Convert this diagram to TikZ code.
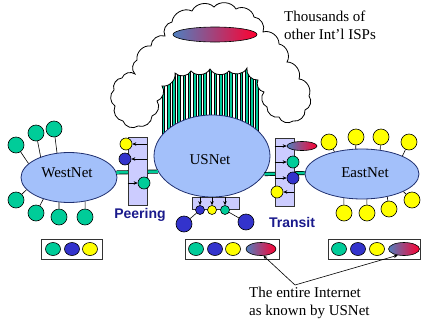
\documentclass[tikz,border=0pt]{standalone}
\usepackage{fontspec}
\setmainfont{Liberation Serif}
\setsansfont{Liberation Sans}
\usetikzlibrary{shapes.geometric,arrows.meta}
\definecolor{cgreen}{HTML}{00CC99}
\definecolor{cblue}{HTML}{3333CC}
\definecolor{cyellow}{HTML}{FFFF00}
\definecolor{cnet}{HTML}{A3C0FA}
\definecolor{netline}{HTML}{1F2F6F}
\definecolor{cbox}{HTML}{CCCCFF}
\definecolor{ctext}{HTML}{1A1A8C}
\definecolor{cgl}{HTML}{4F7FBF}
\definecolor{cgr}{HTML}{FF0030}
\begin{document}
\begin{tikzpicture}[x=1pt,y=-1pt,
  net/.style={ellipse, draw=netline, fill=cnet, line width=0.8pt, inner sep=0pt},
  cust/.style={circle, draw=black, line width=0.6pt, minimum size=16pt, inner sep=0pt},
  smallc/.style={circle, draw=black, line width=0.6pt, minimum size=12pt, inner sep=0pt},
  tinyc/.style={circle, draw=black, line width=0.6pt, minimum size=9pt, inner sep=0pt},
  rowc/.style={ellipse, draw=black, line width=0.6pt, minimum width=15pt, minimum height=13pt, inner sep=0pt},
  grad/.style={ellipse, draw=black, line width=0.6pt, left color=cgl, right color=cgr, inner sep=0pt},
  pbox/.style={rectangle, draw=black!80, fill=cbox, line width=0.6pt, inner sep=0pt},
  rowbox/.style={rectangle, draw=black!80, fill=white, line width=0.6pt, inner sep=0pt, minimum height=20pt},
  lbl/.style={font=\fontsize{15}{18}\selectfont, inner sep=0pt},
  blbl/.style={font=\sffamily\bfseries\fontsize{14}{16}\selectfont, text=ctext, inner sep=0pt},
  arr/.style={-{Stealth[length=4pt,width=3.5pt]}, line width=0.6pt},
  lnk/.style={line width=0.6pt},
  bar/.style={draw=black, double=cgreen, double distance=2.6pt, line width=0.7pt},
  stripe/.style={draw=black, fill=cgreen, line width=0.5pt},
  cloud/.style={draw=black, fill=white, line width=0.8pt}
]
\useasboundingbox (0,0) rectangle (421,322);

% stripes between cloud and USNet
\foreach \i in {0,...,18}
  \draw[stripe] ({162+5.2*\i},60) rectangle ++(2.6,90);

% cloud
\draw[cloud] (162,86) to[bend left=55] (157,101) to[bend left=55] (152,116)
  to[bend left=55] (138,126) to[bend left=55] (123,121) to[bend left=55] (115,106)
  to[bend left=55] (114,90) to[bend left=55] (122,78) to[bend left=55] (135,74)
  to[bend left=55] (137,60) to[bend left=55] (151,46) to[bend left=55] (165,36)
  to[bend left=55] (172,22) to[bend left=55] (192,11) to[bend left=55] (214,7)
  to[bend left=55] (236,9) to[bend left=55] (254,17) to[bend left=55] (263,32)
  to[bend left=55] (279,44) to[bend left=55] (287,62) to[bend left=55] (299,79)
  to[bend left=55] (309,96) to[bend left=55] (305,110) to[bend left=55] (293,121)
  to[bend left=55] (279,117) to[bend left=55] (267,107) to[bend left=55] (264,92)
  to[bend left=55] (258,80) to[bend left=55] (247,68) to[bend left=55] (229,71)
  to[bend left=55] (210,69) to[bend left=55] (191,71) to[bend left=55] (175,73)
  to[bend left=55] (162,86) -- cycle;

\node[grad, minimum width=84pt, minimum height=15pt] (isp) at (215,34.5) {};
\node[lbl, anchor=base west] (t1) at (284,21.7) {Thousands of};
\node[lbl, anchor=base west] (t2) at (284,39.7) {other Int’l ISPs};

% networks
\node[net, minimum width=96pt, minimum height=50pt] (west) at (69,177.5) {};
\node[net, minimum width=116pt, minimum height=82pt] (us) at (212,156) {};
\node[net, minimum width=114pt, minimum height=50pt] (east) at (362,174) {};
\node[lbl] (westt) at (67,172.5) {WestNet};
\node[lbl] (ust) at (210,160) {USNet};
\node[lbl] (eastt) at (365,173) {EastNet};

% green links
\draw[bar] (west.6.7) -- (us.196.1);
\draw[bar] (us.341.5) -- (east.179.5);

% boxes
\node[pbox, minimum width=19pt, minimum height=68pt] (peer) at (137.5,171) {};
\node[pbox, minimum width=19pt, minimum height=68pt] (tran) at (284.5,172) {};
\node[pbox, minimum width=47pt, minimum height=12pt] (ub) at (215.5,203) {};

% WestNet customers
\foreach \n/\x/\y/\a in {w1/16/145/161, w2/36/133/144, w3/54/129/116, w4/16/200/196,
                         w5/36/213/220, w6/59/217/248, w7/85/217/304} {
  \node[cust, fill=cgreen] (\n) at (\x,\y) {};
  \draw[lnk] (\n) -- (west.\a);
}
% EastNet customers
\foreach \n/\x/\y/\a in {e1/329/142/141, e2/356/137/104, e3/381/137/53, e4/409/142/24,
                         e5/344/213/233, e6/367/213/281, e7/389/209/318, e8/412/200/337} {
  \node[cust, fill=cyellow] (\n) at (\x,\y) {};
  \draw[lnk] (\n) -- (east.\a);
}

% Peering
\node[smallc, fill=cyellow] (py) at (126,144) {};
\node[smallc, fill=cblue] (pb) at (125,159) {};
\node[smallc, fill=cgreen] (pg) at (144,183) {};
\draw[arr] (peer.east |- py) -- (py);
\draw[arr] (peer.east |- pb) -- (pb);
\draw[arr] (peer.west |- pg) -- (pg);
\node[blbl, anchor=base] (peert) at (140,218) {Peering};

% Transit
\node[grad, minimum width=30pt, minimum height=9pt] (tg) at (302,146) {};
\node[smallc, fill=cgreen] (tgr) at (293,162) {};
\node[smallc, fill=cblue] (tb) at (293,178) {};
\node[smallc, fill=cyellow] (ty) at (277,192) {};
\draw[arr] (tran.west |- tg) -- (tg);
\draw[arr] (tran.west |- tgr) -- (tgr);
\draw[arr] (tran.west |- tb) -- (tb);
\draw[arr] (tran.east |- ty) -- (ty);
\node[blbl, anchor=base] (trant) at (292,227) {Transit};

% USNet customers
\node[tinyc, fill=cblue] (sb) at (200,210) {};
\node[tinyc, fill=cyellow] (sy) at (212,210) {};
\node[tinyc, fill=cgreen] (sg) at (225,210) {};
\draw[arr] (ub.north -| sb) -- (sb);
\draw[arr] (ub.north -| sy) -- (sy);
\draw[arr] (ub.north -| sg) -- (sg);
\node[cust, fill=cblue] (bb1) at (184,224) {};
\node[cust, fill=cblue] (bb2) at (246,222) {};
\draw[lnk] (sb) -- (bb1);
\draw[lnk] (sg) -- (bb2);

% routing tables
\node[rowbox, minimum width=61pt] (r1) at (71.5,249) {};
\node[rowc, fill=cgreen] (r1g) at (53,249) {};
\node[rowc, fill=cblue] (r1b) at (72,249) {};
\node[rowc, fill=cyellow] (r1y) at (90,249) {};

\node[rowbox, minimum width=94pt] (r2) at (232,249) {};
\node[rowc, fill=cgreen] (r2g) at (196,249) {};
\node[rowc, fill=cblue] (r2b) at (215,249) {};
\node[rowc, fill=cyellow] (r2y) at (233,249) {};
\node[grad, minimum width=30pt, minimum height=13pt] (r2x) at (261,249) {};

\node[rowbox, minimum width=92pt] (r3) at (374,249) {};
\node[rowc, fill=cgreen] (r3g) at (339,249) {};
\node[rowc, fill=cblue] (r3b) at (358,249) {};
\node[rowc, fill=cyellow] (r3y) at (377,249) {};
\node[grad, minimum width=31pt, minimum height=13pt] (r3x) at (404,249) {};

% annotation
\coordinate (ann) at (295,285);
\draw[arr] (ann) -- (r2x.290);
\draw[arr] (ann) -- (r3x.225);
\node[lbl, anchor=base west] (a1) at (249,297) {The entire Internet};
\node[lbl, anchor=base west] (a2) at (249,315) {as known by USNet};
\end{tikzpicture}
\end{document}
